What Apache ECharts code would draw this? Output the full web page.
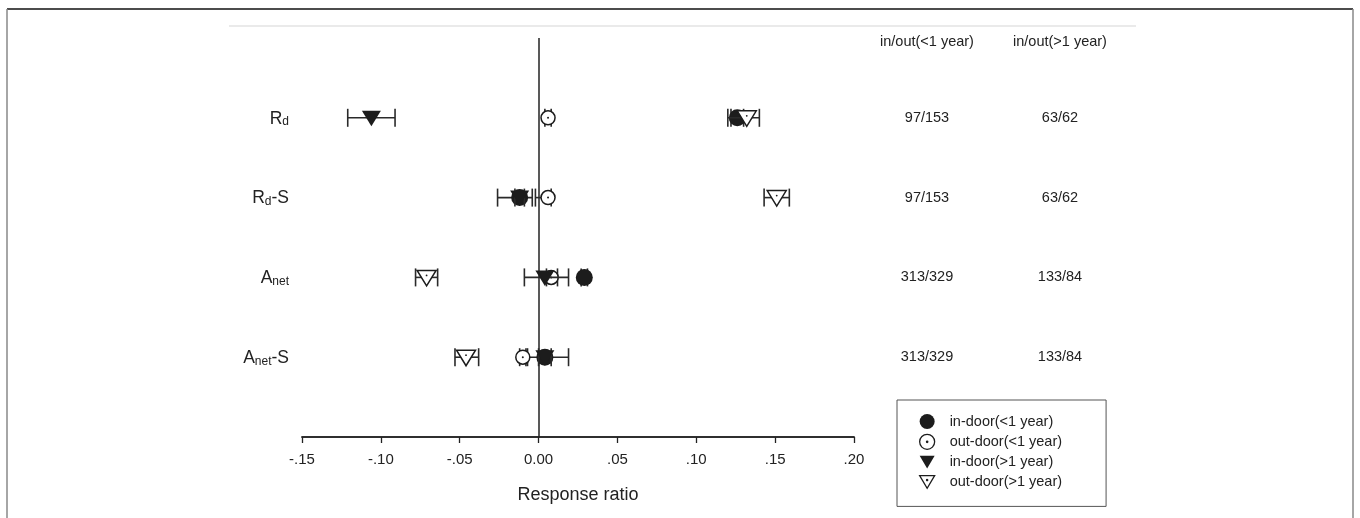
<!DOCTYPE html>
<html>
<head>
<meta charset="utf-8">
<script src="https://cdn.jsdelivr.net/npm/echarts@6/dist/echarts.min.js"></script>
<style>
html,body{margin:0;padding:0;background:#fff;}
#c{width:1360px;height:518px;}
</style>
</head>
<body>
<div id="c"></div>
<script>
// ---- data ----
const categories = ['Rd', 'Rd-S', 'Anet', 'Anet-S'];          // top to bottom
const categoryMain = ['R', 'R', 'A', 'A'];
const categorySub = ['d', 'd', 'net', 'net'];
const categoryTail = ['', '-S', '', '-S'];
const rowPos = [4, 3, 2, 1];
const xTicks = ['-.15', '-.10', '-.05', '0.00', '.05', '.10', '.15', '.20'];
const seriesNames = ['in-door(<1 year)', 'out-door(<1 year)', 'in-door(>1 year)', 'out-door(>1 year)'];
const headerLess = 'in/out(<1 year)';
const headerMore = 'in/out(>1 year)';
const countsLess = ['97/153', '97/153', '313/329', '313/329'];
const countsMore = ['63/62', '63/62', '133/84', '133/84'];

// mean, lower, upper for each category (Rd, Rd-S, Anet, Anet-S)
const inLess1Mean = [0.126, -0.012, 0.029, 0.004];
const inLess1Low  = [0.122, -0.026, 0.027, -0.007];
const inLess1High = [0.130, -0.004, 0.031, 0.019];

const outLess1Mean = [0.006, 0.006, 0.008, -0.010];
const outLess1Low  = [0.004, -0.002, 0.005, -0.012];
const outLess1High = [0.008, 0.008, 0.012, -0.008];

const inMore1Mean = [-0.106, -0.012, 0.004, 0.004];
const inMore1Low  = [-0.121, -0.015, -0.009, 0.000];
const inMore1High = [-0.091, -0.009, 0.019, 0.008];

const outMore1Mean = [0.132, 0.151, -0.071, -0.046];
const outMore1Low  = [0.120, 0.143, -0.078, -0.053];
const outMore1High = [0.140, 0.159, -0.064, -0.038];

// ---- build ----
const INK = '#1c1c1c';
function rows(mean, low, high) {
  return mean.map((m, i) => [m, low[i], high[i], rowPos[i]]);
}
function makeRender(kind) {
  return function (params, api) {
    const y = api.value(3);
    const c = api.coord([api.value(0), y]);
    const l = api.coord([api.value(1), y]);
    const h = api.coord([api.value(2), y]);
    const capH = 9;
    const lineStyle = { stroke: '#2a2a2a', lineWidth: 1.6 };
    const children = [
      { type: 'line', shape: { x1: l[0], y1: l[1], x2: h[0], y2: h[1] }, style: lineStyle },
      { type: 'line', shape: { x1: l[0], y1: l[1] - capH, x2: l[0], y2: l[1] + capH }, style: lineStyle },
      { type: 'line', shape: { x1: h[0], y1: h[1] - capH, x2: h[0], y2: h[1] + capH }, style: lineStyle }
    ];
    const cx = c[0], cy = c[1];
    if (kind === 'filledCircle') {
      children.push({ type: 'circle', shape: { cx, cy, r: 8.5 }, style: { fill: INK } });
    } else if (kind === 'openCircle') {
      children.push({ type: 'circle', shape: { cx, cy, r: 7 }, style: { fill: '#fff', stroke: INK, lineWidth: 1.5 } });
      children.push({ type: 'circle', shape: { cx, cy, r: 1 }, style: { fill: INK } });
    } else if (kind === 'filledTri') {
      children.push({ type: 'polygon', shape: { points: [[cx - 9.5, cy - 7], [cx + 9.5, cy - 7], [cx, cy + 8.5]] }, style: { fill: INK } });
    } else {
      children.push({ type: 'polygon', shape: { points: [[cx - 9.5, cy - 7], [cx + 9.5, cy - 7], [cx, cy + 8.5]] }, style: { fill: '#fff', stroke: INK, lineWidth: 1.5 } });
      children.push({ type: 'circle', shape: { cx, cy: cy - 2, r: 0.9 }, style: { fill: INK } });
    }
    return { type: 'group', children };
  };
}

const icons = [
  'circle',
  'path://M10,1A9,9,0,1,1,9.99,1ZM10,9.2A0.8,0.8,0,1,1,9.99,9.2Z',
  'path://M0,0L20,0L10,17Z',
  'path://M0,0L20,0L10,17ZM10,5.2A0.8,0.8,0,1,1,9.99,5.2Z'
];
const seriesStyles = [
  { color: INK, borderColor: INK, borderWidth: 0 },
  { color: '#fff', borderColor: INK, borderWidth: 1.3 },
  { color: INK, borderColor: INK, borderWidth: 0 },
  { color: '#fff', borderColor: INK, borderWidth: 1.3 }
];
const kinds = ['filledCircle', 'openCircle', 'filledTri', 'openTri'];
const datas = [
  rows(inLess1Mean, inLess1Low, inLess1High),
  rows(outLess1Mean, outLess1Low, outLess1High),
  rows(inMore1Mean, inMore1Low, inMore1High),
  rows(outMore1Mean, outMore1Low, outMore1High)
];

const series = seriesNames.map((name, i) => ({
  type: 'custom',
  name,
  renderItem: makeRender(kinds[i]),
  encode: { x: [0, 1, 2], y: 3 },
  itemStyle: seriesStyles[i],
  data: datas[i],
  z: 10 + i
}));
series[0].markLine = {
  silent: true,
  symbol: 'none',
  label: { show: false },
  lineStyle: { color: '#222', width: 1.5, type: 'solid' },
  data: [{ xAxis: 0 }],
  z: 5
};

function catLabel(v) {
  return rowPos.indexOf(v);
}

const chart = echarts.init(document.getElementById('c'), null, { renderer: 'canvas' });
chart.setOption({
  backgroundColor: '#fff',
  animation: false,
  textStyle: { fontFamily: 'Liberation Sans, Arial, sans-serif' },
  grid: { left: 302, right: 506, top: 38, bottom: 81, containLabel: false },
  xAxis: [
    {
      type: 'value', min: -0.15, max: 0.20, interval: 0.05, position: 'bottom',
      splitLine: { show: false },
      axisLine: { lineStyle: { color: '#222', width: 1.5 } },
      axisTick: { show: true, length: 6, lineStyle: { color: '#222', width: 1.3 } },
      axisLabel: {
        color: '#222', fontSize: 15, margin: 15,
        formatter: (v) => xTicks[Math.round((v + 0.15) / 0.05)]
      },
      name: 'Response ratio', nameLocation: 'middle', nameGap: 49,
      nameTextStyle: { color: '#222', fontSize: 18 }
    },
    {
      type: 'value', min: -0.15, max: 0.20, interval: 0.05, position: 'top',
      splitLine: { show: false },
      axisLine: { show: true, lineStyle: { color: '#222', width: 1.5 } },
      axisTick: { show: false }, axisLabel: { show: false }
    }
  ],
  yAxis: [
    {
      type: 'value', min: 0, max: 5, interval: 1,
      splitLine: { show: false }, axisLine: { show: false }, axisTick: { show: false },
      axisLabel: {
        margin: 13, align: 'right', color: '#222',
        formatter: (v) => {
          const i = catLabel(v);
          if (i < 0) return '';
          let s = '{m|' + categoryMain[i] + '}{s|' + categorySub[i] + '}';
          if (categoryTail[i]) s += '{m|' + categoryTail[i] + '}';
          return s;
        },
        rich: {
          m: { fontSize: 17.5, color: '#222', verticalAlign: 'bottom', lineHeight: 20 },
          s: { fontSize: 12, color: '#222', verticalAlign: 'bottom', lineHeight: 17 }
        }
      }
    },
    {
      type: 'value', min: 0, max: 5, interval: 1, position: 'right',
      splitLine: { show: false }, axisLine: { show: false }, axisTick: { show: false },
      axisLabel: {
        margin: 73, align: 'center', color: '#222', fontSize: 14.5,
        formatter: (v) => {
          if (v === 5) return '{h|' + headerLess + '}';
          const i = catLabel(v);
          return i < 0 ? '' : countsLess[i];
        },
        rich: { h: { fontSize: 14.5, color: '#222', padding: [7, 0, 0, 0] } }
      }
    },
    {
      type: 'value', min: 0, max: 5, interval: 1, position: 'right',
      splitLine: { show: false }, axisLine: { show: false }, axisTick: { show: false },
      axisLabel: {
        margin: 206, align: 'center', color: '#222', fontSize: 14.5,
        formatter: (v) => {
          if (v === 5) return '{h|' + headerMore + '}';
          const i = catLabel(v);
          return i < 0 ? '' : countsMore[i];
        },
        rich: { h: { fontSize: 14.5, color: '#222', padding: [7, 0, 0, 0] } }
      }
    }
  ],
  legend: {
    orient: 'vertical',
    left: 897, top: 400,
    padding: [14, 44, 17, 22],
    borderColor: '#555', borderWidth: 1,
    itemWidth: 15, itemHeight: 15, itemGap: 4.7,
    textStyle: { color: '#222', fontSize: 14.5, padding: [0, 0, 0, 10] },
    data: seriesNames.map((n, i) => ({ name: n, icon: icons[i], itemStyle: seriesStyles[i] }))
  },
  graphic: [
    { type: 'line', shape: { x1: 7, y1: 9, x2: 1353, y2: 9 }, style: { stroke: '#111', lineWidth: 1.5 }, silent: true },
    { type: 'line', shape: { x1: 7, y1: 9, x2: 7, y2: 518 }, style: { stroke: '#888', lineWidth: 1.5 }, silent: true },
    { type: 'line', shape: { x1: 1353, y1: 9, x2: 1353, y2: 518 }, style: { stroke: '#888', lineWidth: 1.5 }, silent: true },
    { type: 'line', shape: { x1: 229, y1: 26, x2: 1136, y2: 26 }, style: { stroke: '#eaeaea', lineWidth: 2 }, silent: true }
  ],
  series
});
</script>
</body>
</html>
